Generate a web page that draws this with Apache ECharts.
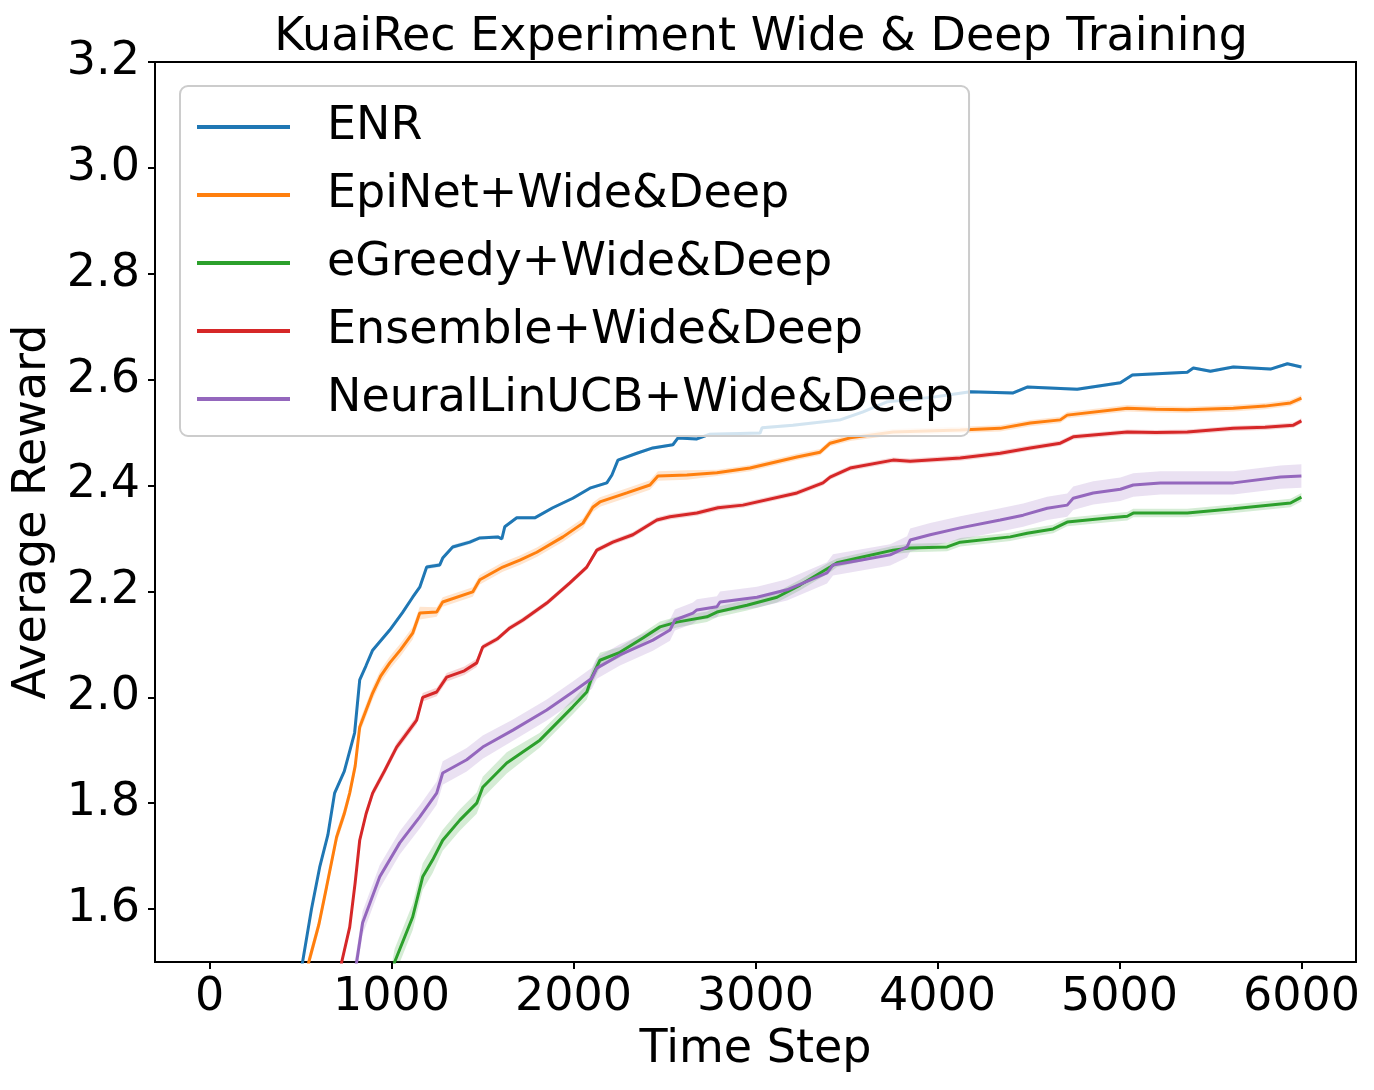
<!DOCTYPE html>
<html>
<head>
<meta charset="utf-8">
<script src="https://cdn.jsdelivr.net/npm/echarts@6/dist/echarts.min.js"></script>
<style>
  html, body { margin: 0; padding: 0; background: #fff; }
  #main { width: 1374px; height: 1090px; }
</style>
</head>
<body>
<div id="main"></div>
<script>
// 数据
var seriesNames = ['ENR', 'EpiNet+Wide&Deep', 'eGreedy+Wide&Deep', 'Ensemble+Wide&Deep', 'NeuralLinUCB+Wide&Deep'];
var seriesColors = ['#1f77b4', '#ff7f0e', '#2ca02c', '#d62728', '#9467bd'];

var xTicks = [0, 1000, 2000, 3000, 4000, 5000, 6000];
var yTicks = [1.6, 1.8, 2.0, 2.2, 2.4, 2.6, 2.8, 3.0, 3.2];

var enrStep = [480, 511, 560, 605, 650, 687, 740, 797, 825, 860, 896, 990, 1060, 1116, 1155, 1193, 1265, 1281, 1336, 1430, 1485, 1584, 1606, 1622, 1688, 1787, 1886, 1996, 2090, 2183, 2211, 2244, 2348, 2436, 2546, 2574, 2678, 2750, 3025, 3036, 3206, 3465, 3591, 3723, 3976, 4180, 4416, 4493, 4768, 5005, 5071, 5373, 5406, 5500, 5626, 5830, 5923, 6000];
var enrReward = [1.45, 1.5, 1.6, 1.679, 1.74, 1.819, 1.86, 1.933, 2.033, 2.06, 2.089, 2.127, 2.16, 2.189, 2.208, 2.246, 2.250, 2.263, 2.284, 2.293, 2.301, 2.303, 2.299, 2.322, 2.339, 2.339, 2.358, 2.376, 2.395, 2.405, 2.420, 2.448, 2.461, 2.471, 2.477, 2.490, 2.488, 2.497, 2.499, 2.509, 2.514, 2.524, 2.539, 2.558, 2.567, 2.577, 2.575, 2.586, 2.582, 2.594, 2.609, 2.614, 2.622, 2.616, 2.624, 2.620, 2.630, 2.624];
var enrSpread = [0.004, 0.004, 0.004, 0.004, 0.004, 0.004, 0.004, 0.004, 0.004, 0.004, 0.004, 0.004, 0.004, 0.004, 0.004, 0.004, 0.004, 0.004, 0.004, 0.004, 0.003, 0.003, 0.003, 0.003, 0.003, 0.003, 0.003, 0.003, 0.003, 0.003, 0.003, 0.003, 0.003, 0.003, 0.003, 0.003, 0.003, 0.003, 0.003, 0.003, 0.003, 0.003, 0.003, 0.003, 0.003, 0.003, 0.003, 0.003, 0.003, 0.003, 0.003, 0.003, 0.003, 0.003, 0.003, 0.003, 0.003, 0.003];

var epiStep = [520, 545, 600, 643, 698, 740, 770, 800, 825, 896, 940, 990, 1050, 1116, 1155, 1248, 1281, 1446, 1485, 1611, 1705, 1798, 1942, 2052, 2106, 2145, 2293, 2420, 2464, 2623, 2788, 2970, 3228, 3355, 3410, 3520, 3756, 4125, 4345, 4510, 4675, 4713, 5043, 5200, 5373, 5626, 5800, 5940, 6000];
var epiReward = [1.45, 1.5, 1.57, 1.642, 1.736, 1.78, 1.819, 1.87, 1.944, 2.008, 2.04, 2.065, 2.09, 2.121, 2.159, 2.161, 2.180, 2.199, 2.222, 2.246, 2.259, 2.274, 2.303, 2.329, 2.359, 2.369, 2.386, 2.401, 2.418, 2.420, 2.424, 2.433, 2.454, 2.463, 2.480, 2.490, 2.501, 2.505, 2.508, 2.518, 2.524, 2.533, 2.546, 2.544, 2.543, 2.546, 2.550, 2.556, 2.565];
var epiSpread = [0.012, 0.012, 0.012, 0.012, 0.012, 0.012, 0.012, 0.012, 0.012, 0.012, 0.012, 0.012, 0.012, 0.012, 0.012, 0.009, 0.009, 0.009, 0.009, 0.009, 0.009, 0.009, 0.009, 0.009, 0.009, 0.009, 0.009, 0.009, 0.009, 0.009, 0.006, 0.006, 0.006, 0.006, 0.006, 0.006, 0.006, 0.006, 0.006, 0.006, 0.006, 0.006, 0.006, 0.006, 0.006, 0.006, 0.006, 0.006, 0.006];

var greedyStep = [990, 1017, 1116, 1171, 1226, 1281, 1375, 1468, 1501, 1633, 1815, 1996, 2073, 2101, 2145, 2255, 2381, 2475, 2568, 2733, 2788, 2953, 3118, 3245, 3410, 3448, 3575, 3756, 3850, 4053, 4125, 4400, 4493, 4636, 4713, 4950, 5043, 5076, 5225, 5373, 5626, 5940, 6000];
var greedyReward = [1.45, 1.5, 1.585, 1.661, 1.693, 1.730, 1.768, 1.800, 1.830, 1.876, 1.919, 1.982, 2.010, 2.038, 2.070, 2.085, 2.112, 2.133, 2.142, 2.152, 2.161, 2.174, 2.189, 2.212, 2.246, 2.254, 2.264, 2.278, 2.282, 2.284, 2.293, 2.303, 2.310, 2.318, 2.331, 2.339, 2.342, 2.348, 2.348, 2.348, 2.356, 2.367, 2.378];
var greedySpread = [0.025, 0.025, 0.025, 0.025, 0.025, 0.02, 0.02, 0.02, 0.02, 0.02, 0.014, 0.014, 0.014, 0.014, 0.014, 0.01, 0.01, 0.01, 0.01, 0.01, 0.01, 0.01, 0.01, 0.01, 0.01, 0.008, 0.008, 0.008, 0.008, 0.008, 0.008, 0.008, 0.008, 0.008, 0.008, 0.008, 0.008, 0.008, 0.008, 0.008, 0.008, 0.008, 0.008];

var ensStep = [700, 726, 770, 800, 825, 860, 896, 960, 1028, 1138, 1171, 1248, 1303, 1400, 1468, 1501, 1580, 1650, 1722, 1853, 1980, 2073, 2128, 2216, 2326, 2458, 2530, 2678, 2794, 2931, 3228, 3371, 3410, 3520, 3756, 3850, 4125, 4345, 4510, 4675, 4746, 5043, 5200, 5373, 5626, 5800, 5956, 6000];
var ensReward = [1.45, 1.5, 1.566, 1.65, 1.730, 1.78, 1.819, 1.86, 1.906, 1.957, 2.000, 2.010, 2.038, 2.05, 2.065, 2.095, 2.11, 2.131, 2.146, 2.178, 2.216, 2.246, 2.278, 2.293, 2.307, 2.335, 2.341, 2.348, 2.358, 2.363, 2.386, 2.405, 2.416, 2.433, 2.448, 2.446, 2.452, 2.461, 2.471, 2.480, 2.492, 2.501, 2.500, 2.501, 2.508, 2.510, 2.514, 2.522];
var ensSpread = [0.008, 0.008, 0.008, 0.008, 0.008, 0.008, 0.008, 0.008, 0.008, 0.008, 0.008, 0.008, 0.008, 0.008, 0.008, 0.005, 0.005, 0.005, 0.005, 0.005, 0.005, 0.005, 0.005, 0.005, 0.005, 0.005, 0.005, 0.005, 0.005, 0.005, 0.005, 0.005, 0.005, 0.005, 0.005, 0.005, 0.005, 0.005, 0.005, 0.005, 0.005, 0.005, 0.005, 0.005, 0.005, 0.005, 0.005, 0.005];

var nlucbStep = [780, 808, 841, 935, 1045, 1155, 1248, 1281, 1413, 1501, 1667, 1853, 1996, 2101, 2128, 2255, 2436, 2530, 2557, 2656, 2678, 2788, 2805, 3008, 3173, 3393, 3426, 3575, 3740, 3833, 3850, 3960, 4125, 4345, 4471, 4603, 4713, 4746, 4856, 5005, 5076, 5225, 5406, 5626, 5885, 6000];
var nlucbReward = [1.45, 1.5, 1.574, 1.661, 1.725, 1.774, 1.819, 1.857, 1.882, 1.906, 1.938, 1.976, 2.010, 2.036, 2.055, 2.080, 2.108, 2.127, 2.146, 2.159, 2.165, 2.171, 2.180, 2.189, 2.203, 2.235, 2.250, 2.259, 2.269, 2.284, 2.297, 2.307, 2.320, 2.335, 2.344, 2.357, 2.363, 2.376, 2.386, 2.393, 2.401, 2.405, 2.405, 2.405, 2.416, 2.418];
var nlucbSpread = [0.022, 0.022, 0.022, 0.022, 0.022, 0.022, 0.022, 0.022, 0.022, 0.022, 0.02, 0.02, 0.02, 0.02, 0.02, 0.02, 0.02, 0.02, 0.02, 0.02, 0.02, 0.02, 0.02, 0.02, 0.02, 0.02, 0.02, 0.02, 0.02, 0.02, 0.022, 0.022, 0.022, 0.022, 0.022, 0.022, 0.022, 0.022, 0.022, 0.022, 0.022, 0.022, 0.022, 0.022, 0.022, 0.022];

var allSteps = [enrStep, epiStep, greedyStep, ensStep, nlucbStep];
var allRewards = [enrReward, epiReward, greedyReward, ensReward, nlucbReward];
var allSpreads = [enrSpread, epiSpread, greedySpread, ensSpread, nlucbSpread];

var FONT = 'DejaVu Sans';
var FS = 46;

function hexAlpha(hex, a) {
  var r = parseInt(hex.slice(1, 3), 16), g = parseInt(hex.slice(3, 5), 16), b = parseInt(hex.slice(5, 7), 16);
  return 'rgba(' + r + ',' + g + ',' + b + ',' + a + ')';
}

var series = [];
// 置信区间 (fill_between)
allSteps.forEach(function (steps, k) {
  var rew = allRewards[k], spr = allSpreads[k];
  var rows = steps.map(function (s, i) {
    var d = spr[i] !== undefined ? spr[i] : spr[spr.length - 1];
    return [s, rew[i] - d, rew[i] + d];
  });
  series.push({
    type: 'custom',
    name: seriesNames[k] + ' band',
    data: rows,
    clip: true,
    silent: true,
    z: 1,
    encode: { x: 0, y: [1, 2] },
    renderItem: function (params, api) {
      if (params.dataIndex !== 0) return null;
      var upper = [], lower = [];
      rows.forEach(function (r) {
        upper.push(api.coord([r[0], r[2]]));
        lower.push(api.coord([r[0], r[1]]));
      });
      var pts = upper.concat(lower.reverse());
      var cs = params.coordSys;
      return {
        type: 'polygon',
        shape: { points: pts },
        style: { fill: hexAlpha(seriesColors[k], 0.2) },
        clipPath: { type: 'rect', shape: { x: cs.x, y: cs.y, width: cs.width, height: cs.height } }
      };
    }
  });
});
// 均值曲线
allSteps.forEach(function (steps, k) {
  series.push({
    type: 'line',
    name: seriesNames[k],
    data: steps.map(function (s, i) { return [s, allRewards[k][i]]; }),
    showSymbol: false,
    symbol: 'none',
    clip: true,
    z: 3,
    lineStyle: { color: seriesColors[k], width: 3 },
    itemStyle: { color: seriesColors[k] }
  });
});

var chart = echarts.init(document.getElementById('main'), null, { renderer: 'canvas' });
chart.setOption({
  animation: false,
  backgroundColor: '#fff',
  title: {
    text: 'KuaiRec Experiment Wide & Deep Training',
    left: 756,
    textAlign: 'center',
    top: 10,
    textStyle: { fontFamily: FONT, fontSize: FS, fontWeight: 'normal', color: '#000' }
  },
  grid: {
    left: 155, right: 18, top: 62, bottom: 128,
    show: true, borderColor: '#000', borderWidth: 2, backgroundColor: 'transparent'
  },
  legend: {
    data: seriesNames,
    orient: 'vertical',
    left: 180,
    top: 86,
    padding: [16, 15, 12, 17],
    itemGap: 18,
    itemWidth: 93,
    itemHeight: 4,
    icon: 'rect',
    backgroundColor: 'rgba(255,255,255,0.8)',
    borderColor: '#cccccc',
    borderWidth: 2,
    borderRadius: 8,
    textStyle: { fontFamily: FONT, fontSize: FS, color: '#000', lineHeight: 50, padding: [0, 0, 0, 32] },
    z: 10
  },
  xAxis: {
    type: 'value',
    min: -300,
    max: 6300,
    name: 'Time Step',
    nameLocation: 'middle',
    nameGap: 65,
    nameTextStyle: { fontFamily: FONT, fontSize: FS, color: '#000' },
    splitLine: { show: false },
    axisLine: { show: true, onZero: false, lineStyle: { color: '#000', width: 2 } },
    axisTick: { show: true, inside: false, length: 7, lineStyle: { color: '#000', width: 2 }, customValues: xTicks },
    axisLabel: {
      fontFamily: FONT, fontSize: FS, color: '#000', margin: 13, customValues: xTicks,
      formatter: function (v) { return String(v); }
    }
  },
  yAxis: {
    type: 'value',
    min: 1.5,
    max: 3.2,
    name: 'Average Reward',
    nameLocation: 'middle',
    nameGap: 97,
    nameTextStyle: { fontFamily: FONT, fontSize: FS, color: '#000' },
    splitLine: { show: false },
    axisLine: { show: true, onZero: false, lineStyle: { color: '#000', width: 2 } },
    axisTick: { show: true, inside: false, length: 7, lineStyle: { color: '#000', width: 2 }, customValues: yTicks },
    axisLabel: {
      fontFamily: FONT, fontSize: FS, color: '#000', margin: 15, customValues: yTicks,
      formatter: function (v) { return v.toFixed(1); }
    }
  },
  series: series
});
</script>
</body>
</html>
